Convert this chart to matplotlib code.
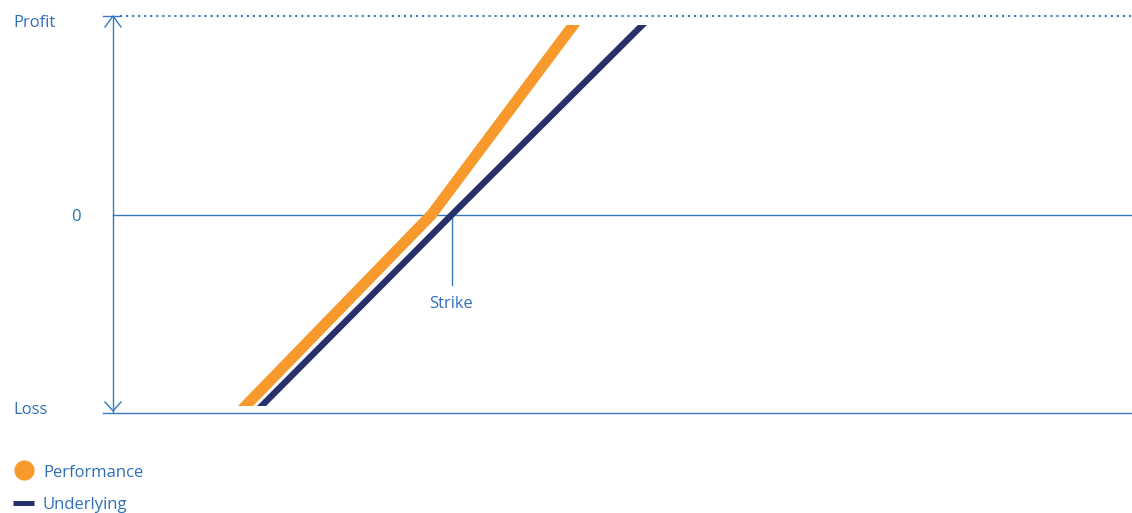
import matplotlib
matplotlib.use("Agg")
import matplotlib.pyplot as plt
from matplotlib.lines import Line2D
from matplotlib.patches import Rectangle

# ---- data ----
underlying_x = [40.6, 100, 160]
underlying_y = [-1.02, 0.0, 1.02]
performance_x = [36.5, 94, 150]
performance_y = [-1.01, 0.0, 1.28]
strike_x = 100
y_levels = [1, 0, -1]
y_labels = ["Profit", "0", "Loss"]
legend_labels = ["Performance", "Underlying"]

ORANGE = "#f7992b"
NAVY = "#27306b"
BLUE = "#3579c2"
TXT = "#2f6fb6"
FONT = "Open Sans"
FS = 12

W, H = 1132, 513
fig = plt.figure(figsize=(W / 100, H / 100), dpi=100)

def fx(px):
    return px / W

def fy(py):
    return 1 - py / H

ax = fig.add_axes([fx(103), fy(413), fx(1132) - fx(103), fy(16) - fy(413)])
sx = 3.39  # px per x unit
xmin = (103 - 113) / sx
xmax = (1132 - 113) / sx
ax.set_xlim(xmin, xmax)
ax.set_ylim(-1, 1)
ax.axis("off")

ypx = 198.5  # px per y unit

# axis lines
ax.plot([0, 0], [-1, 1], color=BLUE, lw=1.0, solid_capstyle="butt", clip_on=False)
ax.plot([xmin, 7 / sx], [1, 1], color=BLUE, lw=1.0, clip_on=False)
ax.plot([7 / sx, xmax], [1, 1], color=BLUE, lw=1.5, linestyle=(0, (1.0, 1.9)), clip_on=False)
ax.plot([xmin, xmax], [-1, -1], color=BLUE, lw=1.0, clip_on=False)
ax.plot([0, xmax], [0, 0], color=BLUE, lw=1.0, clip_on=False)
# arrowheads
ah_w, ah_h = 8 / sx, 11 / ypx
ax.plot([-ah_w, 0, ah_w], [1 - ah_h, 1, 1 - ah_h], color=BLUE, lw=1.0, clip_on=False)
ax.plot([-ah_w, 0, ah_w], [-1 + ah_h, -1 + 2 / ypx, -1 + ah_h], color=BLUE, lw=1.0, clip_on=False)

# strike marker
ax.plot([strike_x, strike_x], [0, -70 / ypx], color=BLUE, lw=1.0)
ax.text(strike_x - 0.3, -89 / ypx, "Strike", color=TXT, fontsize=FS, family=FONT,
        ha="center", va="center")

# payoff lines, clipped horizontally
clip = Rectangle((xmin, -191 / ypx), xmax - xmin, (191 + 190) / ypx,
                 transform=ax.transData, facecolor="none", edgecolor="none")
ax.add_patch(clip)
l1, = ax.plot(performance_x, performance_y, color=ORANGE, lw=7.9,
              solid_joinstyle="round", zorder=3)
l2, = ax.plot(underlying_x, underlying_y, color=NAVY, lw=4.6,
              solid_joinstyle="miter", zorder=4)
l1.set_clip_path(clip)
l2.set_clip_path(clip)

# y labels
fig.text(fx(13), fy(23), y_labels[0], color=TXT, fontsize=FS, family=FONT, ha="left", va="center")
fig.text(fx(81), fy(217), y_labels[1], color=TXT, fontsize=FS, family=FONT, ha="right", va="center")
fig.text(fx(13), fy(410), y_labels[2], color=TXT, fontsize=FS, family=FONT, ha="left", va="center")

# legend
fig.add_artist(Line2D([fx(24)], [fy(470)], marker="o", markersize=14.5, color=ORANGE,
                      markeredgewidth=0, transform=fig.transFigure))
fig.add_artist(Line2D([fx(13), fx(34)], [fy(503), fy(503)], color=NAVY, lw=3.6,
                      solid_capstyle="butt", transform=fig.transFigure))
fig.text(fx(43), fy(473), legend_labels[0], color=TXT, fontsize=FS, family=FONT, ha="left", va="center")
fig.text(fx(43), fy(505), legend_labels[1], color=TXT, fontsize=FS, family=FONT, ha="left", va="center")

fig.savefig("out.png", dpi=100)
